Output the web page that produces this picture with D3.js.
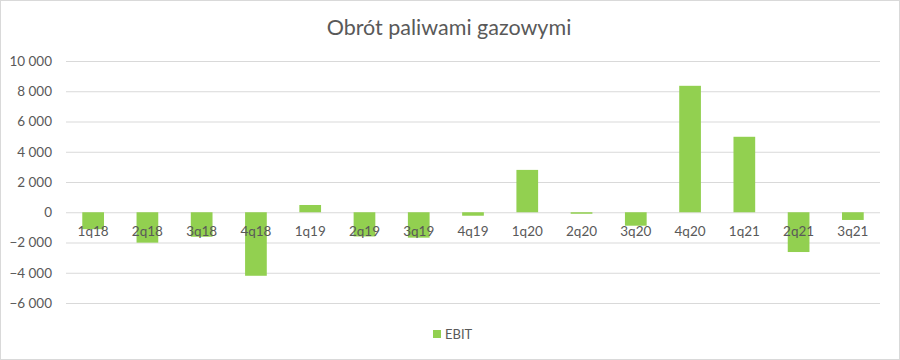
<!DOCTYPE html>
<html><head><meta charset="utf-8">
<script src="https://cdn.jsdelivr.net/npm/d3@7"></script>
<style>body{margin:0;background:#fff}svg{display:block}</style>
</head><body><svg id="c" width="900" height="360"></svg>
<script>
const categories = ["1q18","2q18","3q18","4q18","1q19","2q19","3q19","4q19","1q20","2q20","3q20","4q20","1q21","2q21","3q21"];
const ebit = [-1120,-2010,-1620,-4200,480,-1600,-1680,-230,2800,-100,-890,8360,4990,-2630,-510];
const yTicks = [-6000,-4000,-2000,0,2000,4000,6000,8000,10000];
const seriesName = "EBIT";
const title = "Obrót paliwami gazowymi";

const svg = d3.select("#c");
const W = 900, H = 360;
const m = {left:66, right:20, top:61, bottom:57};
const font = "Lato, 'Open Sans', sans-serif";
const txt = "#595959";

svg.append("rect").attr("x",0.5).attr("y",0.5).attr("width",W-1).attr("height",H-1)
  .attr("fill","#fff").attr("stroke","#d9d9d9");

const x = d3.scaleBand().domain(categories).range([m.left, W-m.right]).paddingInner(0.6).paddingOuter(0.3);
const y = d3.scaleLinear().domain([-6000,10000]).range([H-m.bottom, m.top]);
const fmt = v => d3.format(",")(v).replace(/,/g," ");

const yAxis = d3.axisLeft(y).tickValues(yTicks).tickSize(-(W-m.right-m.left)).tickFormat(fmt).tickPadding(14);
const gy = svg.append("g").attr("transform",`translate(${m.left},0)`).call(yAxis);
gy.select(".domain").remove();
gy.selectAll(".tick line").attr("stroke","#d9d9d9");
gy.selectAll(".tick text").attr("fill",txt).attr("font-size",13.5).attr("font-family",font);

svg.append("g").selectAll("rect").data(ebit).join("rect")
  .attr("x",(d,i)=>x(categories[i]))
  .attr("width",x.bandwidth())
  .attr("y",d=>y(Math.max(0,d)))
  .attr("height",d=>Math.abs(y(d)-y(0)))
  .attr("fill","#92d050");

const xAxis = d3.axisBottom(x).tickSize(0).tickPadding(14);
const gx = svg.append("g").attr("transform",`translate(0,${y(0)})`).call(xAxis);
gx.select(".domain").remove();
gx.selectAll(".tick text").attr("fill",txt).attr("font-size",13.5).attr("font-family",font);

svg.append("text").attr("x",449).attr("y",35).attr("text-anchor","middle")
  .attr("font-size",21.5).attr("font-family",font).attr("fill",txt).text(title);

const lg = svg.append("g").attr("transform","translate(433,330)");
lg.append("rect").attr("width",8).attr("height",8).attr("fill","#92d050");
lg.append("text").attr("x",12).attr("y",8.5).attr("font-size",13).attr("font-family",font).attr("fill",txt).text(seriesName);
</script></body></html>
